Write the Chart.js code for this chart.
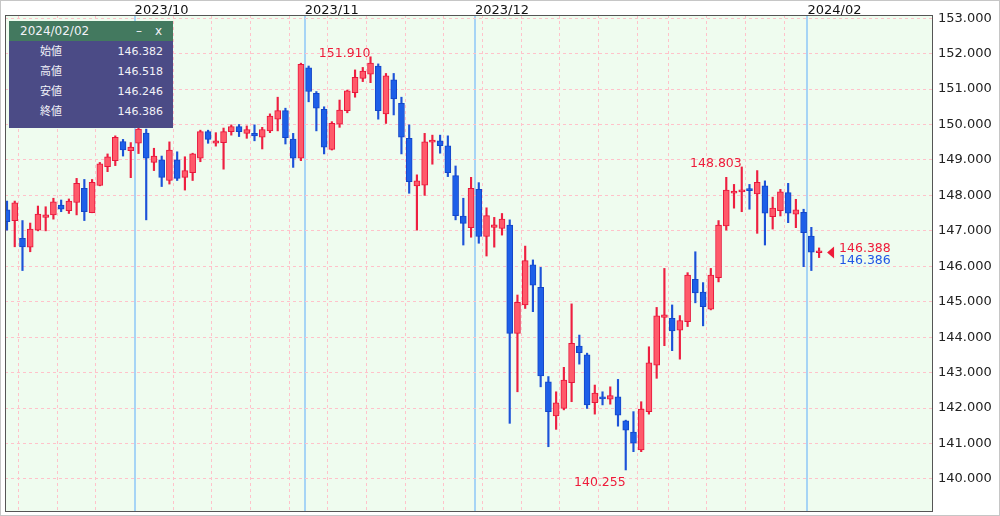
<!DOCTYPE html>
<html>
<head>
<meta charset="utf-8">
<script src="https://cdn.jsdelivr.net/npm/chart.js@4.4.1/dist/chart.umd.min.js"></script>
<style>
  html, body { margin: 0; padding: 0; background: #fff; }
  #wrap { position: relative; width: 1000px; height: 516px; }
  #info {
    position: absolute; left: 9px; top: 21px; width: 164px;
    font-family: "DejaVu Sans", "Noto Sans CJK JP", sans-serif; color: #f2f2f8;
  }
  #info .head {
    height: 20px; background: #43795f; font-size: 12px; line-height: 20px;
    padding-left: 11px; position: relative;
  }
  #info .head span { position: absolute; top: 0; }
  #info .rows { background: #4b4b86; padding: 1px 0 6px; }
  #info .row { height: 20px; line-height: 20px; font-size: 11px; position: relative; }
  #info .row .k { position: absolute; left: 31px; }
  #info .row .v { position: absolute; right: 10px; }
</style>
</head>
<body>
<div id="wrap">
  <canvas id="chart"></canvas>
  <div id="info">
    <div class="head"><span id="infoDate" style="left:11px"></span><span style="left:127px">–</span><span style="left:146px">x</span></div>
    <div class="rows" id="infoRows"></div>
  </div>
</div>
<script>
'use strict';

const dates = [
  '2023/09/07', '2023/09/08', '2023/09/11', '2023/09/12', '2023/09/13', '2023/09/14', '2023/09/15',
  '2023/09/18', '2023/09/19', '2023/09/20', '2023/09/21', '2023/09/22', '2023/09/25', '2023/09/26',
  '2023/09/27', '2023/09/28', '2023/09/29',
  '2023/10/02', '2023/10/03', '2023/10/04', '2023/10/05', '2023/10/06', '2023/10/09', '2023/10/10',
  '2023/10/11', '2023/10/12', '2023/10/13', '2023/10/16', '2023/10/17', '2023/10/18', '2023/10/19',
  '2023/10/20', '2023/10/23', '2023/10/24', '2023/10/25', '2023/10/26', '2023/10/27', '2023/10/30',
  '2023/10/31',
  '2023/11/01', '2023/11/02', '2023/11/03', '2023/11/06', '2023/11/07', '2023/11/08', '2023/11/09',
  '2023/11/10', '2023/11/13', '2023/11/14', '2023/11/15', '2023/11/16', '2023/11/17', '2023/11/20',
  '2023/11/21', '2023/11/22', '2023/11/23', '2023/11/24', '2023/11/27', '2023/11/28', '2023/11/29',
  '2023/11/30',
  '2023/12/01', '2023/12/04', '2023/12/05', '2023/12/06', '2023/12/07', '2023/12/08', '2023/12/11',
  '2023/12/12', '2023/12/13', '2023/12/14', '2023/12/15', '2023/12/18', '2023/12/19', '2023/12/20',
  '2023/12/21', '2023/12/22', '2023/12/25', '2023/12/26', '2023/12/27', '2023/12/28', '2023/12/29',
  '2024/01/02', '2024/01/03', '2024/01/04', '2024/01/05', '2024/01/08', '2024/01/09', '2024/01/10',
  '2024/01/11', '2024/01/12', '2024/01/15', '2024/01/16', '2024/01/17', '2024/01/18', '2024/01/19',
  '2024/01/22', '2024/01/23', '2024/01/24', '2024/01/25', '2024/01/26', '2024/01/29', '2024/01/30',
  '2024/01/31',
  '2024/02/01', '2024/02/02'
];

const open = [
  147.59, 147.29, 146.79, 146.54, 147.02, 147.38, 147.45, 147.73, 147.57, 147.80,
  148.20, 147.51, 148.28, 148.81, 148.98, 149.52, 149.26, 149.47, 149.76, 148.93,
  149.00, 148.42, 149.00, 148.51, 148.64, 149.05, 149.80, 149.47, 149.49, 149.80,
  149.94, 149.75, 149.75, 149.64, 149.82, 150.15, 150.39, 149.59, 149.05, 151.60,
  150.88, 150.43, 149.30, 150.01, 150.39, 150.90, 151.30, 151.42, 151.65, 150.30,
  151.26, 150.60, 149.61, 148.27, 148.29, 149.50, 149.54, 149.40, 148.56, 147.42,
  147.09, 148.17, 146.84, 147.10, 147.07, 147.16, 144.11, 144.91, 146.04, 145.41,
  142.74, 141.78, 141.99, 142.72, 143.75, 143.50, 142.15, 142.30, 142.25, 142.32,
  141.64, 141.32, 140.82, 141.90, 143.21, 144.56, 144.53, 144.20, 144.44, 145.63,
  145.27, 144.79, 145.68, 147.14, 148.06, 148.10, 148.19, 148.04, 148.27, 147.40,
  147.57, 148.08, 147.47, 147.52, 146.85, 146.382
];
const high = [
  147.84, 147.84, 147.29, 147.22, 147.70, 147.68, 147.92, 147.87, 147.90, 148.48,
  148.45, 148.45, 148.93, 149.17, 149.68, 149.58, 149.49, 149.96, 149.87, 149.33,
  149.11, 149.51, 149.23, 149.09, 149.19, 149.84, 149.84, 149.77, 149.90, 149.99,
  150.00, 149.96, 149.99, 149.92, 150.30, 150.77, 150.46, 149.75, 151.73, 151.65,
  150.93, 150.50, 150.08, 150.69, 150.97, 151.54, 151.61, 151.910, 151.71, 151.44,
  151.44, 150.77, 149.99, 148.58, 149.75, 149.70, 149.70, 149.68, 148.83, 147.92,
  148.51, 148.36, 147.65, 147.38, 147.49, 147.31, 145.19, 146.57, 146.18, 145.97,
  142.89, 142.46, 143.15, 144.94, 144.06, 143.55, 142.65, 142.46, 142.60, 142.81,
  141.66, 141.90, 142.18, 143.73, 144.84, 145.94, 144.91, 144.61, 145.82, 146.41,
  145.54, 145.94, 147.29, 148.51, 148.31, 148.803, 148.31, 148.70, 148.41, 147.95,
  148.17, 148.34, 147.89, 147.61, 147.10, 146.518
];
const low = [
  147.02, 146.55, 145.88, 146.41, 147.00, 147.00, 147.33, 147.54, 147.49, 147.45,
  147.29, 147.51, 148.27, 148.67, 148.84, 149.11, 148.50, 149.18, 147.31, 148.70,
  148.25, 148.32, 148.42, 148.15, 148.42, 148.95, 149.47, 149.39, 148.74, 149.70,
  149.66, 149.61, 149.54, 149.31, 149.77, 149.82, 149.45, 148.79, 148.98, 150.64,
  149.82, 149.17, 149.28, 149.92, 150.33, 150.77, 151.21, 151.18, 150.15, 150.03,
  150.27, 149.17, 148.06, 147.02, 148.00, 148.88, 149.19, 148.53, 147.31, 146.60,
  146.82, 146.65, 146.29, 146.54, 146.88, 141.57, 142.46, 144.81, 144.72, 142.60,
  140.91, 141.40, 141.95, 142.18, 143.24, 141.99, 141.83, 142.09, 142.11, 141.49,
  140.255, 140.77, 140.77, 141.83, 142.84, 143.76, 143.62, 143.38, 144.30, 144.97,
  144.32, 144.77, 145.56, 147.02, 147.64, 147.54, 147.61, 146.93, 146.60, 147.05,
  147.42, 147.23, 147.09, 145.99, 145.88, 146.246
];
const close = [
  147.26, 147.79, 146.55, 147.05, 147.47, 147.45, 147.82, 147.61, 147.84, 148.34,
  147.54, 148.37, 148.89, 149.09, 149.64, 149.28, 149.36, 149.87, 149.05, 149.11,
  148.51, 149.28, 148.48, 148.70, 149.17, 149.80, 149.58, 149.54, 149.80, 149.94,
  149.80, 149.86, 149.68, 149.86, 150.24, 150.39, 149.63, 149.05, 151.70, 150.93,
  150.46, 149.36, 150.03, 150.41, 150.95, 151.33, 151.51, 151.73, 150.39, 151.37,
  150.72, 149.64, 148.39, 148.41, 149.51, 149.56, 149.40, 148.64, 147.43, 147.21,
  148.20, 146.84, 147.43, 147.17, 147.33, 144.11, 144.98, 146.16, 145.47, 142.91,
  141.90, 142.15, 142.79, 143.83, 143.56, 142.09, 142.42, 142.26, 142.35, 141.80,
  141.38, 141.01, 141.97, 143.28, 144.60, 144.63, 144.18, 144.47, 145.75, 145.25,
  144.86, 145.75, 147.16, 148.15, 148.12, 148.15, 148.13, 148.37, 147.50, 147.64,
  148.10, 147.50, 147.59, 146.95, 146.40, 146.386
];

// current quote shown at the right edge
const askPrice = 146.388;
const bidPrice = 146.386;

// top axis labels (month starts that carry a label)
const monthTickLabels = ['2023/10', '2023/11', '2023/12', '2024/02'];
const priceTicks = [140, 141, 142, 143, 144, 145, 146, 147, 148, 149, 150, 151, 152, 153];

// marked extremes: index of the candle
const peakMarks = [47, 95];
const troughMarks = [80];

const RED_FILL = '#ff5a6a', RED_LINE = '#e8163c';
const BLUE_FILL = '#1d5fe8', BLUE_LINE = '#1446c8';

const up = close.map((c, i) => c >= open[i]);
const last = dates.length - 1;

// index of first candle of each labelled month
const monthIdx = monthTickLabels.map(m => dates.findIndex(d => d.startsWith(m)));
// week boundaries (weekday wraps round)
const weekIdx = [];
for (let i = 1; i < dates.length; i++) {
  if (new Date(dates[i]).getDay() < new Date(dates[i - 1]).getDay()) weekIdx.push(i - 0.5);
}

const bodies = dates.map((d, i) => ({ x: i, y: [open[i], close[i]] }));
const wicks = dates.map((d, i) => ({ x: i, y: [low[i], high[i]] }));

const FONT = '"DejaVu Sans", sans-serif';

// kill the label overhang padding so the plot area keeps its size
function noPad(s) {
  s.paddingLeft = 0; s.paddingRight = 0; s.paddingTop = 0; s.paddingBottom = 0;
}

const decorations = {
  id: 'decorations',
  beforeDraw(chart) {
    const { ctx, chartArea: a } = chart;
    ctx.save();
    ctx.fillStyle = '#effcef';
    ctx.fillRect(a.left, a.top, a.right - a.left, a.bottom - a.top);
    ctx.restore();
  },
  afterDraw(chart) {
    const { ctx, chartArea: a } = chart;
    const xs = chart.scales.x, ys = chart.scales.y;
    ctx.save();
    // plot frame
    ctx.strokeStyle = '#555';
    ctx.lineWidth = 1;
    ctx.strokeRect(a.left + 0.5, a.top + 0.5, a.right - a.left, a.bottom - a.top);
    // outer frame
    ctx.strokeStyle = '#c6c6c6';
    ctx.strokeRect(0.5, 0.5, chart.width - 1, chart.height - 1);

    // high / low marks
    ctx.font = '12.5px ' + FONT;
    ctx.fillStyle = '#ee1c3a';
    ctx.textAlign = 'right';
    ctx.textBaseline = 'alphabetic';
    peakMarks.forEach(i => {
      ctx.fillText(high[i].toFixed(3), xs.getPixelForValue(i), ys.getPixelForValue(high[i]));
    });
    troughMarks.forEach(i => {
      ctx.fillText(low[i].toFixed(3), xs.getPixelForValue(i), ys.getPixelForValue(low[i]) + 16);
    });

    // current price marker
    const px = xs.getPixelForValue(last);
    const py = ys.getPixelForValue(askPrice);
    ctx.beginPath();
    ctx.moveTo(px + 8, py);
    ctx.lineTo(px + 15, py - 6);
    ctx.lineTo(px + 15, py + 6);
    ctx.closePath();
    ctx.fill();
    ctx.textAlign = 'left';
    ctx.fillText(askPrice.toFixed(3), px + 20, py - 1);
    ctx.fillStyle = '#1f55e6';
    ctx.fillText(bidPrice.toFixed(3), px + 20, py + 11);
    ctx.restore();
  }
};

new Chart(document.getElementById('chart'), {
  type: 'bar',
  data: {
    datasets: [{
      label: 'body',
      data: bodies,
      grouped: false,
      barThickness: 6,
      minBarLength: 2,
      borderWidth: 1,
      borderSkipped: false,
      backgroundColor: up.map(u => u ? RED_FILL : BLUE_FILL),
      borderColor: up.map(u => u ? RED_LINE : BLUE_LINE)
    }, {
      label: 'wick',
      data: wicks,
      grouped: false,
      barThickness: 1.5,
      borderWidth: 0,
      backgroundColor: up.map(u => u ? '#ee1f40' : '#1c52d8')
    }]
  },
  plugins: [decorations],
  options: {
    responsive: true,
    maintainAspectRatio: false,
    animation: false,
    events: [],
    layout: { padding: { left: 5, right: 0, top: 0, bottom: 5 } },
    plugins: { legend: { display: false }, tooltip: { enabled: false } },
    scales: {
      x: {
        type: 'linear',
        position: 'bottom',
        offset: false,
        min: -0.26,
        max: 119.6,
        afterBuildTicks: s => { s.ticks = weekIdx.map(v => ({ value: v })); },
        afterFit: s => { s.height = 0; noPad(s); },
        ticks: { display: false },
        grid: { offset: false, color: '#ffc2ca', lineWidth: 1, drawTicks: false },
        border: { display: false, dash: [3, 3] }
      },
      xm: {
        type: 'linear',
        position: 'top',
        offset: false,
        min: -0.26,
        max: 119.6,
        afterBuildTicks: s => { s.ticks = monthIdx.map(i => ({ value: i - 0.5 })); },
        afterFit: s => { s.height = 15; noPad(s); },
        ticks: {
          autoSkip: false,
          maxRotation: 0,
          align: 'start',
          padding: -3,
          color: '#111',
          font: { family: FONT, size: 13 },
          callback: (v, i) => monthTickLabels[i]
        },
        grid: { offset: false, color: '#a6d4f5', lineWidth: 2, drawTicks: false },
        border: { display: false }
      },
      y: {
        type: 'linear',
        position: 'right',
        min: 139.097,
        max: 153.089,
        afterBuildTicks: s => { s.ticks = priceTicks.map(v => ({ value: v })); },
        afterFit: s => { s.width = 68; noPad(s); },
        ticks: {
          padding: 6,
          color: '#222',
          font: { family: FONT, size: 13 },
          callback: v => v.toFixed(3)
        },
        grid: { color: '#ffc2ca', lineWidth: 1, drawTicks: false },
        border: { display: false, dash: [3, 3] }
      }
    }
  }
});

// info box for the latest candle
document.getElementById('infoDate').textContent = dates[last];
const infoRows = [['始値', open[last]], ['高値', high[last]], ['安値', low[last]], ['終値', close[last]]];
document.getElementById('infoRows').innerHTML = infoRows
  .map(r => '<div class="row"><span class="k">' + r[0] + '</span><span class="v">' + r[1].toFixed(3) + '</span></div>')
  .join('');
</script>
</body>
</html>
